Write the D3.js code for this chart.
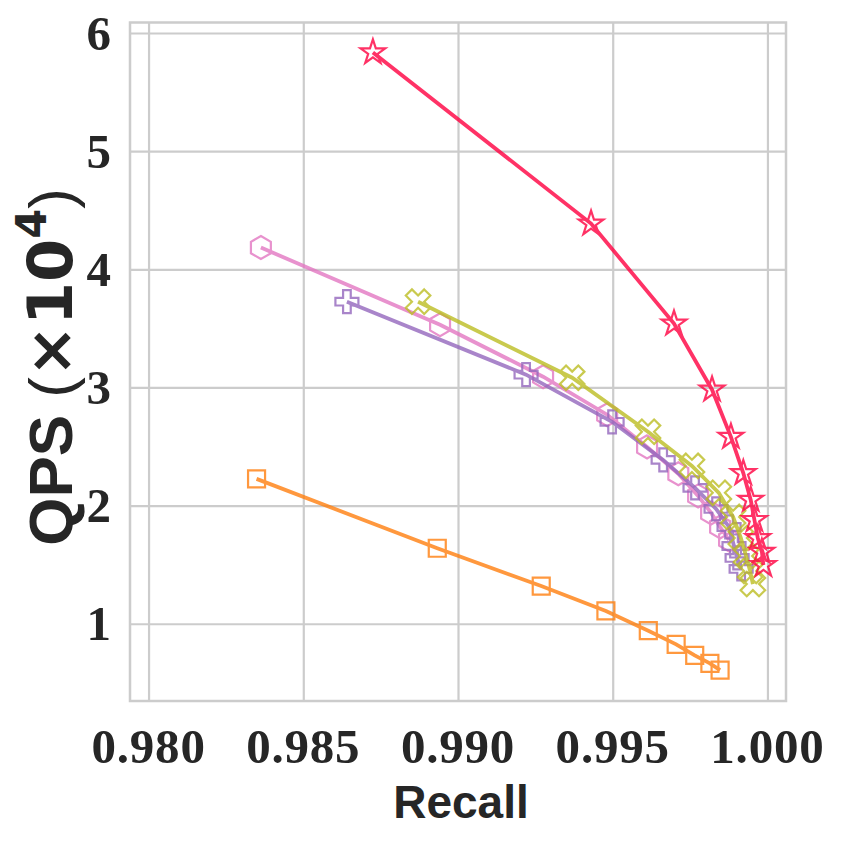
<!DOCTYPE html>
<html>
<head>
<meta charset="utf-8">
<script src="https://cdn.jsdelivr.net/npm/d3@7"></script>
<style>
body { margin: 0; background: #fff; }
</style>
</head>
<body>
<div id="chart"></div>
<script>
// values
var xTicks = [0.980, 0.985, 0.990, 0.995, 1.000];
var yTicks = [1, 2, 3, 4, 5, 6];

var orangeRecall = [0.98349, 0.98933, 0.99269, 0.99478, 0.99615, 0.99705, 0.99765, 0.99814, 0.99847];
var orangeQps    = [2.226, 1.639, 1.319, 1.108, 0.941, 0.825, 0.732, 0.664, 0.608];

var pinkRecall = [0.98363, 0.98942, 0.99275, 0.99482, 0.99611, 0.99712, 0.99776, 0.99818, 0.99847, 0.99876];
var pinkQps    = [4.184, 3.531, 3.091, 2.769, 2.497, 2.269, 2.082, 1.938, 1.819, 1.709];

var purpleRecall = [0.98641, 0.99220, 0.99498, 0.99663, 0.99766, 0.99834, 0.99876, 0.99892, 0.99902, 0.99915];
var purpleQps    = [3.726, 3.108, 2.709, 2.387, 2.150, 1.972, 1.819, 1.658, 1.557, 1.464];

var oliveRecall = [0.98871, 0.99369, 0.99614, 0.99756, 0.99843, 0.99889, 0.99914, 0.99931, 0.99944, 0.99953];
var oliveQps    = [3.726, 3.082, 2.625, 2.336, 2.108, 1.904, 1.726, 1.574, 1.447, 1.336];

var redRecall = [0.98725, 0.99430, 0.99698, 0.99821, 0.99882, 0.99922, 0.99946, 0.99958, 0.99969, 0.99982, 0.99987];
var redQps    = [5.836, 4.387, 3.540, 2.981, 2.582, 2.275, 2.048, 1.878, 1.724, 1.608, 1.497];

var conf = {
	width: 843, height: 843,
	left: 130, right: 786, top: 22.5, bottom: 701
};

// marker shapes as closed paths around (0,0)
var poly = function(pts) {
	return "M" + pts.map(function(p) { return p[0].toFixed(2) + "," + p[1].toFixed(2); }).join("L") + "Z";
};
var rotate = function(pts, a) {
	return pts.map(function(p) {
		return [p[0] * Math.cos(a) - p[1] * Math.sin(a), p[0] * Math.sin(a) + p[1] * Math.cos(a)];
	});
};
var plusPts = function(r) {
	var t = r / 3;
	return [[-t, -r], [t, -r], [t, -t], [r, -t], [r, t], [t, t], [t, r], [-t, r], [-t, t], [-r, t], [-r, -t], [-t, -t]];
};
var markers = {
	square: function() { var s = 8.5; return poly([[-s, -s], [s, -s], [s, s], [-s, s]]); },
	hexagon: function() {
		return poly(d3.range(6).map(function(i) {
			var a = -Math.PI / 2 + i * Math.PI / 3;
			return [11.5 * Math.cos(a), 11.5 * Math.sin(a)];
		}));
	},
	plus: function() { return poly(plusPts(11.5)); },
	cross: function() { return poly(rotate(plusPts(13), Math.PI / 4)); },
	star: function() {
		return poly(d3.range(10).map(function(i) {
			var a = -Math.PI / 2 + i * Math.PI / 5, r = (i % 2) ? 13 * 0.381 : 13;
			return [r * Math.cos(a), r * Math.sin(a)];
		}));
	}
};

var series = [
	{ key: "orange", recall: orangeRecall, qps: orangeQps, color: "#ff7f0e", marker: "square" },
	{ key: "pink", recall: pinkRecall, qps: pinkQps, color: "#e377c2", marker: "hexagon" },
	{ key: "purple", recall: purpleRecall, qps: purpleQps, color: "#9467bd", marker: "plus" },
	{ key: "olive", recall: oliveRecall, qps: oliveQps, color: "#bcbd22", marker: "cross" },
	{ key: "red", recall: redRecall, qps: redQps, color: "#ff0040", marker: "star" }
];

var x = d3.scaleLinear().domain([0.9794, 1.0006]).range([conf.left, conf.right]);
var y = d3.scaleLinear().domain([0.346, 6.089]).range([conf.bottom, conf.top]);

var $svg = d3.select("#chart").append("svg")
	.attr("width", conf.width)
	.attr("height", conf.height)
	.style("font-family", "'Liberation Serif', serif");

// grid
$svg.append("g")
	.attr("class", "grid")
	.attr("transform", "translate(0," + conf.bottom + ")")
	.call(d3.axisBottom(x).tickValues(xTicks).tickSize(-(conf.bottom - conf.top)).tickFormat(""));
$svg.append("g")
	.attr("class", "grid")
	.attr("transform", "translate(" + conf.left + ",0)")
	.call(d3.axisLeft(y).tickValues(yTicks).tickSize(-(conf.right - conf.left)).tickFormat(""));
$svg.selectAll(".grid .domain").remove();
$svg.selectAll(".grid line")
	.attr("stroke", "#cccccc")
	.attr("stroke-width", 2.2);

// frame
$svg.append("rect")
	.attr("x", conf.left)
	.attr("y", conf.top)
	.attr("width", conf.right - conf.left)
	.attr("height", conf.bottom - conf.top)
	.attr("fill", "none")
	.attr("stroke", "#cccccc")
	.attr("stroke-width", 2.5);

// tick labels
$svg.append("g").selectAll("text")
	.data(xTicks)
	.enter().append("text")
	.attr("x", function(d) { return x(d); })
	.attr("y", 763)
	.attr("text-anchor", "middle")
	.attr("font-size", 49)
	.attr("font-weight", "bold")
	.attr("letter-spacing", 0.8)
	.attr("fill", "#262626")
	.text(function(d) { return d3.format(".3f")(d); });

$svg.append("g").selectAll("text")
	.data(yTicks)
	.enter().append("text")
	.attr("x", 111)
	.attr("y", function(d) { return y(d) + 16.5; })
	.attr("text-anchor", "end")
	.attr("font-size", 49)
	.attr("font-weight", "bold")
	.attr("fill", "#262626")
	.text(function(d) { return d; });

// axis titles
$svg.append("text")
	.attr("x", (conf.left + conf.right) / 2 + 3)
	.attr("y", 818)
	.attr("text-anchor", "middle")
	.attr("font-family", "'Liberation Sans', sans-serif")
	.attr("font-size", 46)
	.attr("font-weight", "bold")
	.attr("fill", "#262626")
	.text("Recall");

var $ylab = $svg.append("text")
	.attr("transform", "translate(72,367) rotate(-90)")
	.attr("text-anchor", "middle")
	.attr("font-family", "'Liberation Sans', sans-serif")
	.attr("font-size", 62)
	.attr("font-weight", "bold")
	.attr("fill", "#262626");
$ylab.append("tspan").text("QPS ");
$ylab.append("tspan").attr("font-weight", "normal").text("(");
$ylab.append("tspan").attr("font-family", "'DejaVu Sans', sans-serif").text("\u00d710");
$ylab.append("tspan").attr("font-family", "'DejaVu Sans', sans-serif")
	.attr("font-size", 43).attr("dy", -26).text("4");
$ylab.append("tspan").attr("dy", 26).attr("font-weight", "normal").text(")");

// series
var line = d3.line()
	.x(function(d) { return x(d[0]); })
	.y(function(d) { return y(d[1]); });

series.forEach(function(s) {
	var pts = d3.zip(s.recall, s.qps);
	var $g = $svg.append("g")
		.attr("class", "series-" + s.key)
		.attr("opacity", 0.8);
	$g.append("path")
		.attr("d", line(pts))
		.attr("fill", "none")
		.attr("stroke", s.color)
		.attr("stroke-width", 3.8);
	$g.selectAll("path.marker")
		.data(pts)
		.enter().append("path")
		.attr("class", "marker")
		.attr("transform", function(d) { return "translate(" + x(d[0]) + "," + y(d[1]) + ")"; })
		.attr("d", markers[s.marker]())
		.attr("fill", "none")
		.attr("stroke", s.color)
		.attr("stroke-width", 2.2);
});
</script>
</body>
</html>
